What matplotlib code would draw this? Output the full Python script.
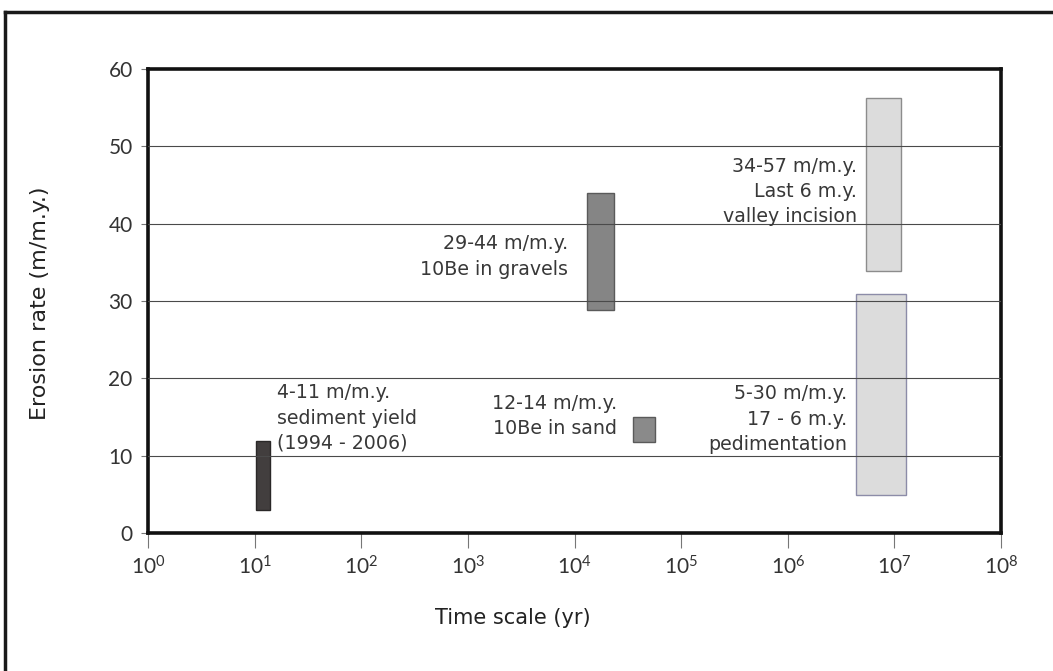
import matplotlib
matplotlib.use("Agg")
import matplotlib.pyplot as plt
from matplotlib.lines import Line2D

# ---- data ----
labels = ["4-11 m/m.y.\nsediment yield\n(1994 - 2006)",
          "29-44 m/m.y.\n10Be in gravels",
          "12-14 m/m.y.\n10Be in sand",
          "34-57 m/m.y.\nLast 6 m.y.\nvalley incision",
          "5-30 m/m.y.\n17 - 6 m.y.\npedimentation"]
time_start = [10.2, 1.30e4, 3.57e4, 5.4e6, 4.35e6]
time_end = [13.9, 2.35e4, 5.7e4, 1.15e7, 1.28e7]
rate_low = [3.0, 28.8, 11.8, 33.9, 4.9]
rate_high = [11.9, 44.0, 15.0, 56.2, 30.9]
label_x = [16.2, 8.7e3, 2.51e4, 4.48e6, 3.61e6]
label_y = [14.87, 35.75, 15.13, 44.16, 14.74]
label_ha = ["left", "right", "right", "right", "right"]
face_colors = ["#423e3e", "#858585", "#8a8a8a", "#dcdcdc", "#dcdcdc"]
edge_colors = ["#2a2828", "#5a5a5a", "#5a5a5a", "#8c8c8c", "#8c8ca8"]
yticks = [0, 10, 20, 30, 40, 50, 60]
xticks = [10**k for k in range(0, 9)]
xticklabels = [r"$10^{%d}$" % k for k in range(0, 9)]

FONT = "DejaVu Sans"
TICKFONT = "Lato"
plt.rcParams["font.family"] = [FONT]
plt.rcParams["mathtext.fontset"] = "custom"
plt.rcParams["mathtext.rm"] = TICKFONT
plt.rcParams["mathtext.it"] = TICKFONT
plt.rcParams["mathtext.bf"] = TICKFONT
plt.rcParams["mathtext.default"] = "rm"

W, H = 1053, 671
fig = plt.figure(figsize=(W / 100, H / 100), dpi=100)
ax = fig.add_axes([148 / W, 1 - 533 / H, (1001 - 148) / W, (533 - 69) / H])
ax.set_xscale("log")
ax.set_xlim(1, 1e8)
ax.set_ylim(0, 60)

for x0, x1, lo, hi, fc, ec in zip(time_start, time_end, rate_low, rate_high,
                                  face_colors, edge_colors):
    ax.bar(x0, hi - lo, width=x1 - x0, bottom=lo, align="edge",
           color=fc, edgecolor=ec, linewidth=1.0, zorder=2)

for y in yticks[1:-1]:
    ax.axhline(y, color="#4a4a4a", linewidth=0.8, zorder=3)

txtc = "#383838"
for lab, lx, ly, ha in zip(labels, label_x, label_y, label_ha):
    ax.text(lx, ly, lab, ha=ha, va="center", fontsize=13.7, color=txtc,
            linespacing=1.42, zorder=4, multialignment=ha)

ax.set_xticks(xticks)
ax.set_xticklabels(xticklabels)
ax.minorticks_off()
ax.set_yticks(yticks)
ax.tick_params(axis="x", direction="out", length=11, width=0.8, color="#777777",
               labelsize=15, labelcolor="#333333", pad=5)
ax.tick_params(axis="y", direction="out", length=5, width=0.8, color="#777777",
               labelsize=15, labelcolor="#333333", pad=6)
for t in ax.get_yticklabels():
    t.set_fontfamily(TICKFONT)

for s in ax.spines.values():
    s.set_linewidth(2.6)
    s.set_color("#111111")

fig.text(513 / W, 1 - 618 / H, "Time scale (yr)", ha="center", va="center",
         fontsize=15, color="#222222")
fig.text(40 / W, 1 - 303 / H, "Erosion rate (m/m.y.)", ha="center", va="center",
         rotation=90, fontsize=16, color="#222222")

# outer frame (top and left edges)
fig.add_artist(Line2D([5 / W, 5 / W], [0, 1 - 12 / H], transform=fig.transFigure,
                      color="#1a1a1a", linewidth=2.5))
fig.add_artist(Line2D([5 / W, 1], [1 - 12 / H, 1 - 12 / H], transform=fig.transFigure,
                      color="#1a1a1a", linewidth=2.5))

fig.savefig("out.png", dpi=100)
